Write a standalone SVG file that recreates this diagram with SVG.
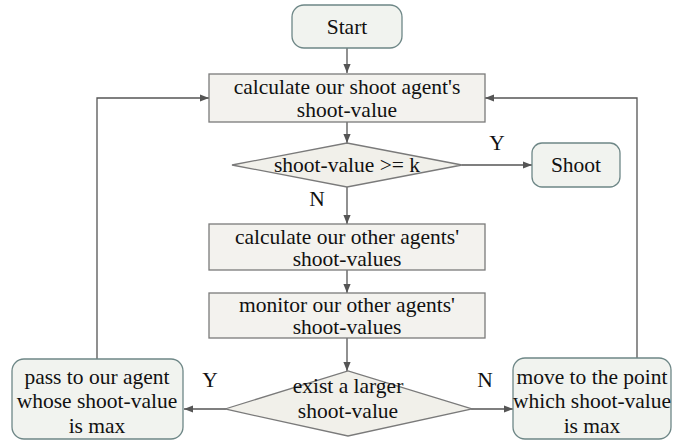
<svg xmlns="http://www.w3.org/2000/svg" width="673" height="441" viewBox="0 0 673 441">
<style>
.proc{fill:#f3f2ee;stroke:#7a7a7a;stroke-width:1.3}
.term{fill:#f1f3ef;stroke:#6e8787;stroke-width:1.3}
.dec{fill:#f1f0ea;stroke:#7a7a7a;stroke-width:1.3}
.t{font-family:"Liberation Serif","Times New Roman",serif;font-size:21.5px;fill:#111;text-anchor:middle}
.c{fill:none;stroke:#555;stroke-width:1.3}
</style>
<defs>
<marker id="ah" viewBox="0 0 10 10" refX="10" refY="5" markerWidth="9" markerHeight="9" markerUnits="userSpaceOnUse" orient="auto">
<path d="M0,1 L10,5 L0,9 z" fill="#555"/>
</marker>
</defs>
<rect width="673" height="441" fill="#fff"/>
<g id="connectors">
<line class="c" x1="347" y1="48" x2="347" y2="73" marker-end="url(#ah)"/>
<line class="c" x1="347" y1="122" x2="347" y2="143" marker-end="url(#ah)"/>
<line class="c" x1="462" y1="165" x2="532" y2="165" marker-end="url(#ah)"/>
<line class="c" x1="347" y1="187" x2="347" y2="224" marker-end="url(#ah)"/>
<line class="c" x1="347" y1="270" x2="347" y2="293" marker-end="url(#ah)"/>
<line class="c" x1="347" y1="338" x2="347" y2="371" marker-end="url(#ah)"/>
<line class="c" x1="226" y1="409" x2="184" y2="409" marker-end="url(#ah)"/>
<line class="c" x1="471" y1="409" x2="513" y2="409" marker-end="url(#ah)"/>
<polyline class="c" points="97,359 97,98 209,98" marker-end="url(#ah)"/>
<polyline class="c" points="637,358 637,98 485,98" marker-end="url(#ah)"/>
</g>
<g id="start">
<rect class="term" x="292" y="5" width="110" height="43" rx="12"/>
<text class="t" x="347" y="34">Start</text>
</g>
<g id="calc-shoot">
<rect class="proc" x="209" y="74" width="276" height="48"/>
<text class="t" x="347" y="94">calculate our shoot agent's</text>
<text class="t" x="347" y="117">shoot-value</text>
</g>
<g id="check-k">
<polygon class="dec" points="232,165 347,143 462,165 347,187"/>
<text class="t" x="347" y="172">shoot-value &gt;= k</text>
</g>
<g id="shoot">
<rect class="term" x="532" y="143" width="88" height="44" rx="10"/>
<text class="t" x="576" y="172">Shoot</text>
</g>
<g id="calc-other">
<rect class="proc" x="209" y="224" width="276" height="46"/>
<text class="t" x="347" y="244">calculate our other agents'</text>
<text class="t" x="347" y="266">shoot-values</text>
</g>
<g id="monitor">
<rect class="proc" x="209" y="293" width="276" height="45"/>
<text class="t" x="347" y="312">monitor our other agents'</text>
<text class="t" x="347" y="334">shoot-values</text>
</g>
<g id="exist">
<polygon class="dec" points="225,409 348,371 472,409 348,436"/>
<text class="t" x="348" y="393">exist a larger</text>
<text class="t" x="348" y="418">shoot-value</text>
</g>
<g id="pass">
<rect class="term" x="12" y="359" width="171" height="80" rx="12"/>
<text class="t" x="97" y="384">pass to our agent</text>
<text class="t" x="97" y="408">whose shoot-value</text>
<text class="t" x="97" y="433">is max</text>
</g>
<g id="move">
<rect class="term" x="513" y="358" width="158" height="81" rx="12"/>
<text class="t" x="592" y="384">move to the point</text>
<text class="t" x="592" y="408">which shoot-value</text>
<text class="t" x="592" y="433">is max</text>
</g>
<g id="labels">
<text class="t" x="497" y="150">Y</text>
<text class="t" x="317" y="206">N</text>
<text class="t" x="210" y="387">Y</text>
<text class="t" x="485" y="387">N</text>
</g>
</svg>
